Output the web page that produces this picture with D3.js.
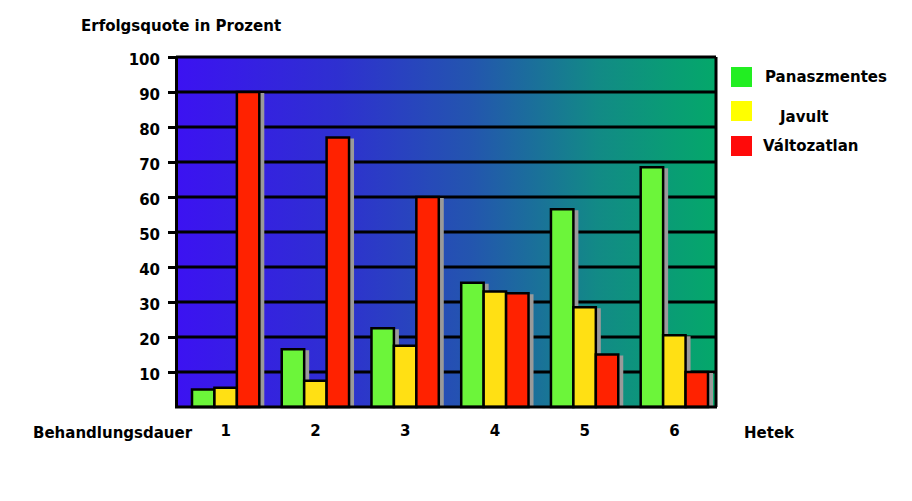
<!DOCTYPE html>
<html>
<head>
<meta charset="utf-8">
<script src="https://cdn.jsdelivr.net/npm/d3@7"></script>
<style>
  body { margin: 0; background: #fff; }
  text { font-family: "DejaVu Sans", Verdana, sans-serif; font-weight: bold; fill: #000; }
</style>
</head>
<body>
<div id="chart"></div>
<script>
// data
const weeks = ["1", "2", "3", "4", "5", "6"];
const seriesNames = ["Panaszmentes", "Javult", "Változatlan"];
const panaszmentes = [5, 16.5, 22.5, 35.5, 56.5, 68.5];
const javult = [5.5, 7.5, 17.5, 33, 28.5, 20.5];
const valtozatlan = [90, 77, 60, 32.5, 15, 10];
const yTicks = [10, 20, 30, 40, 50, 60, 70, 80, 90, 100];

const barColors = ["#6cf53a", "#ffe014", "#ff2200"];
const legendColors = ["#22ee22", "#ffff00", "#ff0a0a"];

const W = 912, H = 501;
const plot = {left: 176, right: 716, top: 57, bottom: 407};

const svg = d3.select("#chart").append("svg")
    .attr("width", W)
    .attr("height", H);

const defs = svg.append("defs");
const grad = defs.append("linearGradient")
    .attr("id", "bg")
    .attr("x1", "0%").attr("x2", "100%")
    .attr("y1", "0%").attr("y2", "0%");
grad.append("stop").attr("offset", "0%").attr("stop-color", "#3c12f2");
grad.append("stop").attr("offset", "30%").attr("stop-color", "#2e30d0");
grad.append("stop").attr("offset", "55%").attr("stop-color", "#2356ae");
grad.append("stop").attr("offset", "78%").attr("stop-color", "#128a86");
grad.append("stop").attr("offset", "100%").attr("stop-color", "#04a86a");

const y = d3.scaleLinear().domain([0, 100]).range([plot.bottom, plot.top]);

const x0 = d3.scaleBand()
    .domain(weeks)
    .range([192, 708])
    .paddingInner(0.25)
    .paddingOuter(0);

const x1 = d3.scaleBand()
    .domain(seriesNames)
    .range([0, x0.bandwidth()]);

// background
svg.append("rect")
    .attr("x", plot.left)
    .attr("y", plot.top)
    .attr("width", plot.right - plot.left)
    .attr("height", plot.bottom - plot.top)
    .attr("fill", "url(#bg)");

// gridlines
svg.append("g")
    .selectAll("line")
    .data(yTicks.filter(d => d < 100))
    .join("line")
    .attr("x1", plot.left)
    .attr("x2", plot.right)
    .attr("y1", d => y(d))
    .attr("y2", d => y(d))
    .attr("stroke", "#000")
    .attr("stroke-width", 3);

// bars
const rows = weeks.map((w, i) => ({
    week: w,
    values: [panaszmentes[i], javult[i], valtozatlan[i]]
}));

const groups = svg.append("g")
    .selectAll("g")
    .data(rows)
    .join("g")
    .attr("transform", d => `translate(${x0(d.week)},0)`);

groups.each(function(d) {
    const g = d3.select(this);
    d.values.forEach((v, j) => {
        const bx = x1(seriesNames[j]);
        // grey shadow on the right side, covered by the next bar
        g.append("rect")
            .attr("x", bx + x1.bandwidth())
            .attr("y", y(v) + 1)
            .attr("width", 5)
            .attr("height", plot.bottom - y(v) - 1)
            .attr("fill", "#9a9a9a");
        g.append("rect")
            .attr("x", bx)
            .attr("y", y(v))
            .attr("width", x1.bandwidth())
            .attr("height", plot.bottom - y(v))
            .attr("fill", barColors[j])
            .attr("stroke", "#000")
            .attr("stroke-width", 2.5);
    });
});

// frame: top and right
svg.append("line")
    .attr("x1", plot.left).attr("x2", plot.right)
    .attr("y1", plot.top).attr("y2", plot.top)
    .attr("stroke", "#000").attr("stroke-width", 3);
svg.append("line")
    .attr("x1", plot.right).attr("x2", plot.right)
    .attr("y1", plot.top).attr("y2", plot.bottom)
    .attr("stroke", "#000").attr("stroke-width", 3);

const yAxis = svg.append("g")
    .attr("transform", `translate(${plot.left},0)`)
    .call(d3.axisLeft(y).tickValues(yTicks).tickSize(8).tickPadding(8).tickSizeOuter(0));
yAxis.select(".domain").attr("stroke-width", 3);
yAxis.selectAll(".tick line").attr("stroke-width", 3);
yAxis.selectAll(".tick text")
    .attr("dy", "0.5em")
    .style("font-size", "15px")
    .style("font-family", "'DejaVu Sans', Verdana, sans-serif")
    .style("font-weight", "bold")
    .attr("fill", "#000");

svg.append("line")
    .attr("x1", plot.left - 1).attr("x2", plot.right + 1)
    .attr("y1", plot.bottom).attr("y2", plot.bottom)
    .attr("stroke", "#000").attr("stroke-width", 3);

// x labels
const xAxis = svg.append("g")
    .attr("transform", `translate(0,${plot.bottom})`)
    .call(d3.axisBottom(x0).tickSize(0).tickPadding(18));
xAxis.select(".domain").remove();
xAxis.selectAll(".tick text")
    .style("font-size", "15px")
    .style("font-family", "'DejaVu Sans', Verdana, sans-serif")
    .style("font-weight", "bold")
    .attr("fill", "#000");

svg.append("text")
    .attr("x", 33).attr("y", 438)
    .style("font-size", "15px")
    .text("Behandlungsdauer");
svg.append("text")
    .attr("x", 744).attr("y", 438)
    .style("font-size", "15px")
    .text("Hetek");
svg.append("text")
    .attr("x", 81).attr("y", 31)
    .style("font-size", "15px")
    .text("Erfolgsquote in Prozent");

// legend
const legendX = [765, 780, 763];
const legendY = [77, 111, 146];
const legend = svg.append("g")
    .selectAll("g")
    .data(seriesNames)
    .join("g");
legend.append("rect")
    .attr("x", 731)
    .attr("y", (d, i) => legendY[i] - 10)
    .attr("width", 21)
    .attr("height", 20)
    .attr("fill", (d, i) => legendColors[i]);
legend.append("text")
    .attr("x", (d, i) => legendX[i])
    .attr("y", (d, i) => legendY[i] + (i === 1 ? 6 : 0))
    .attr("dy", "0.35em")
    .style("font-size", "15px")
    .text(d => d);
</script>
</body>
</html>
